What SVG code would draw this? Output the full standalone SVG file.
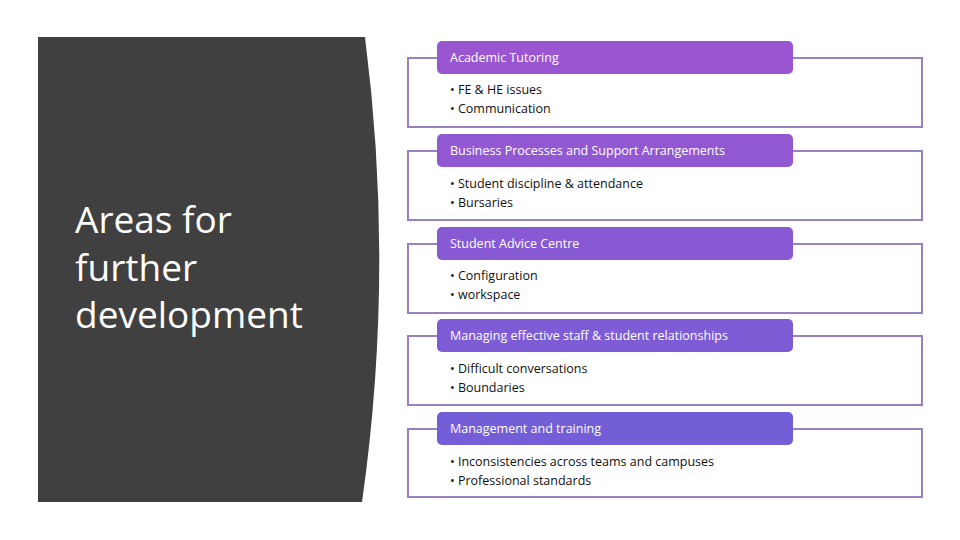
<svg xmlns="http://www.w3.org/2000/svg" width="960" height="540" viewBox="0 0 960 540">
<style>
.o{fill:#fff;stroke:#9a80c0;stroke-width:2}
.h{font-family:"Open Sans","Liberation Sans",sans-serif;font-size:12.5px;fill:#fff}
.b{font-family:"Open Sans","Liberation Sans",sans-serif;font-size:12.5px;fill:#111}
.t{font-family:"Open Sans","Liberation Sans",sans-serif;font-size:37px;fill:#fff}
</style>
<rect width="960" height="540" fill="#fff"/>
<path d="M38,37 L365,37 Q395,270 362,502 L38,502 Z" fill="#404040"/>
<text class="t"><tspan x="75" y="233">Areas for</tspan><tspan x="75" y="281">further</tspan><tspan x="75" y="328">development</tspan></text>
<g id="n1"><rect class="o" x="408" y="58" width="514" height="69"/><rect x="437" y="41" width="356" height="33" rx="5" fill="#9a55d0"/><text class="h" x="450" y="62">Academic Tutoring</text><text class="b" x="450" y="94">• FE &amp; HE issues</text><text class="b" x="450" y="113">• Communication</text></g>
<g id="n2"><rect class="o" x="408" y="151" width="514" height="69"/><rect x="437" y="134" width="356" height="33" rx="5" fill="#9258d2"/><text class="h" x="450" y="155">Business Processes and Support Arrangements</text><text class="b" x="450" y="188">• Student discipline &amp; attendance</text><text class="b" x="450" y="207">• Bursaries</text></g>
<g id="n3"><rect class="o" x="408" y="244" width="514" height="69"/><rect x="437" y="227" width="356" height="33" rx="5" fill="#875ad4"/><text class="h" x="450" y="248">Student Advice Centre</text><text class="b" x="450" y="280">• Configuration</text><text class="b" x="450" y="299">• workspace</text></g>
<g id="n4"><rect class="o" x="408" y="336" width="514" height="69"/><rect x="437" y="319" width="356" height="33" rx="5" fill="#7d5cd6"/><text class="h" x="450" y="340">Managing effective staff &amp; student relationships</text><text class="b" x="450" y="373">• Difficult conversations</text><text class="b" x="450" y="392">• Boundaries</text></g>
<g id="n5"><rect class="o" x="408" y="429" width="514" height="68"/><rect x="437" y="412" width="356" height="33" rx="5" fill="#735ed8"/><text class="h" x="450" y="433">Management and training</text><text class="b" x="450" y="466">• Inconsistencies across teams and campuses</text><text class="b" x="450" y="485">• Professional standards</text></g>
<g id="connectors"/>
</svg>
